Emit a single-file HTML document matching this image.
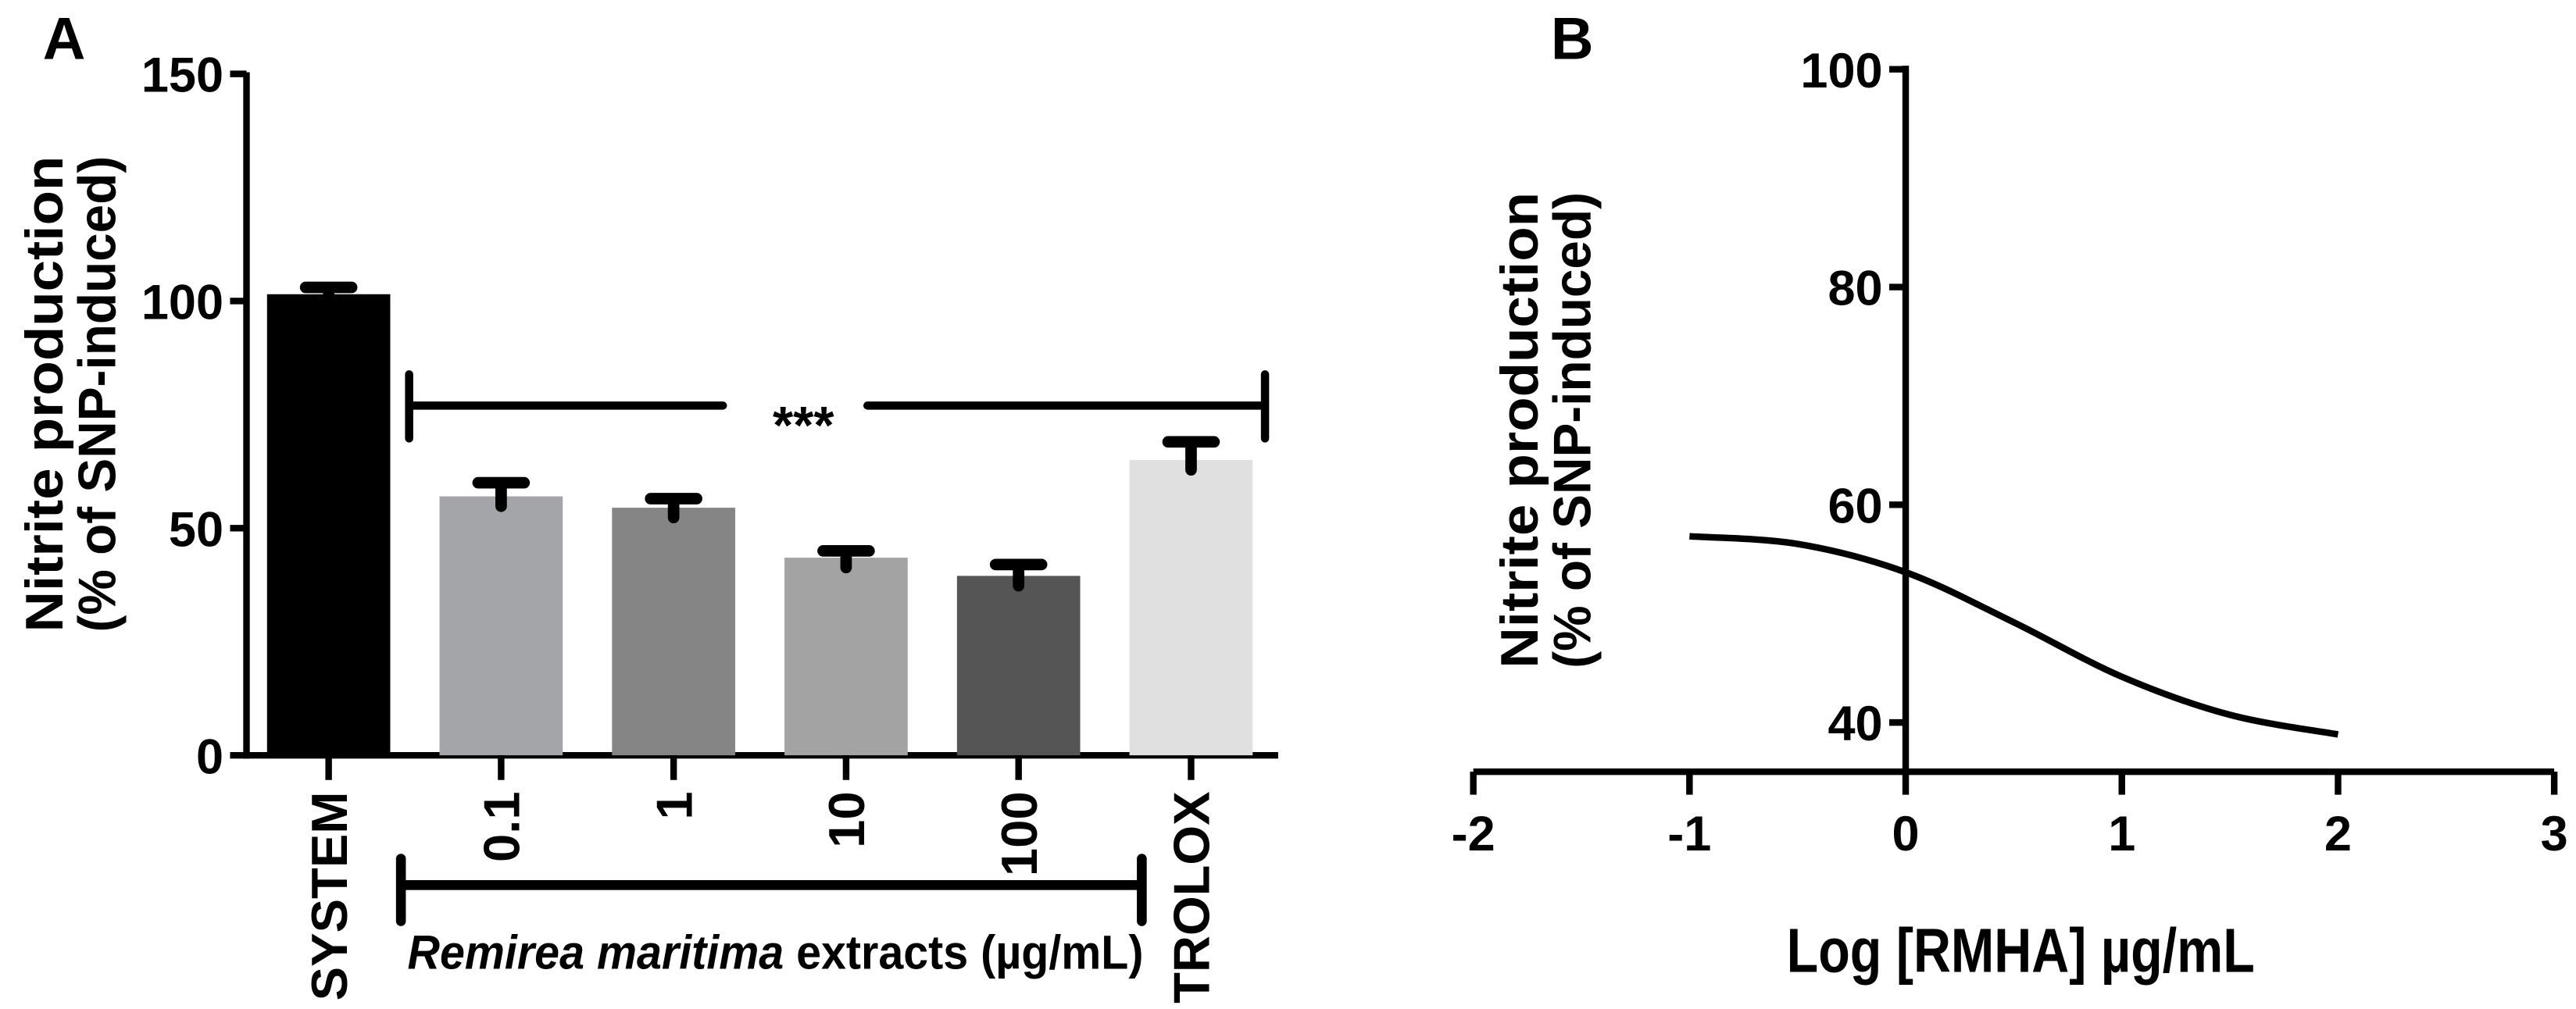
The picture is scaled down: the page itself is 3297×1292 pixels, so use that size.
<!DOCTYPE html>
<html><head><meta charset="utf-8"><style>
html,body{margin:0;padding:0;background:#fff;overflow:hidden}
svg{display:block}
text{font-family:"Liberation Sans",Arial,sans-serif;font-weight:bold;fill:#000}
</style></head><body>
<svg id="fig" width="3297" height="1292" viewBox="0 0 1568 614.5" xmlns="http://www.w3.org/2000/svg">
<g id="A"></g>
<g id="B"></g>
</svg>
<script>
// Panel A data
const catsA = ["SYSTEM","0.1","1","10","100","TROLOX"];
const valsA = [101.5,57,54.5,43.5,39.5,65];
const errA = [103,60,56.5,45,42,69];
const colorsA = ["#000000","#a4a5a9","#858585","#a3a3a3","#555555","#e0e0e0"];
const ticksA = [0,50,100,150];
// Panel B data
const xB = [-1,-0.5,0,0.5,1,1.5,2];
const yB = [57.1,56.4,53.8,49.2,44.2,40.7,38.9];
const xticksB = [-2,-1,0,1,2,3];
const yticksB = [40,60,80,100];

const NS="http://www.w3.org/2000/svg";
function mk(parent,tag,attrs,txt){const e=document.createElementNS(NS,tag);for(const k in attrs)e.setAttribute(k,attrs[k]);if(txt!==undefined)e.textContent=txt;parent.appendChild(e);return e;}

// ---------- Panel A ----------
const A=document.getElementById('A');
const yA=v=>460-v*(415/150);
const xA=i=>200+i*105;
let t=mk(A,'text',{x:26,y:36,'font-size':36});t.textContent='A';

let ax=mk(A,'line',{x1:150,y1:44,x2:150,y2:462,stroke:'#000','stroke-width':4});

ax=mk(A,'line',{x1:148,y1:460,x2:778,y2:460,stroke:'#000','stroke-width':4});

ticksA.forEach(v=>{
  const l=mk(A,'line',{x1:140,y1:yA(v),x2:150,y2:yA(v),stroke:'#000','stroke-width':4});
  
  const tx=mk(A,'text',{x:136,y:yA(v)+11,'font-size':30,'text-anchor':'end'},String(v));
  
});
catsA.forEach((c,i)=>{
  const x=xA(i);
  const r=mk(A,'rect',{x:x-37.5,y:yA(valsA[i]),width:75,height:460-yA(valsA[i]),fill:colorsA[i]});
  
  const e=mk(A,'path',{d:`M${x},${yA(valsA[i])+6}V${yA(errA[i])}M${x-14},${yA(errA[i])}H${x+14}`,stroke:'#000','stroke-width':7,'stroke-linecap':'round',fill:'none'});
  
  const tk=mk(A,'line',{x1:x,y1:460,x2:x,y2:475,stroke:'#000','stroke-width':4});
  
  const lb=mk(A,'text',{x:0,y:0,'font-size':31,'text-anchor':'end',transform:`translate(${x+11},482) rotate(-90)`},c);
  
});
let br=mk(A,'path',{d:'M249,228V267M249,247H440M528,247H770M770,228V267',stroke:'#000','stroke-width':5,fill:'none','stroke-linecap':'round'});

t=mk(A,'text',{x:489,y:270,'font-size':32,'text-anchor':'middle'},'***');

br=mk(A,'path',{d:'M244,523V561M244,539H695M695,523V561',stroke:'#000','stroke-width':6,fill:'none','stroke-linecap':'round'});

t=mk(A,'text',{x:248,y:590,'font-size':29,textLength:448,lengthAdjust:'spacingAndGlyphs'});
t.innerHTML='<tspan font-style="italic">Remirea maritima</tspan> extracts (µg/mL)';

t=mk(A,'text',{x:0,y:0,'font-size':32,'text-anchor':'middle',textLength:290,lengthAdjust:'spacingAndGlyphs',transform:'translate(38,240) rotate(-90)'},'Nitrite production');

t=mk(A,'text',{x:0,y:0,'font-size':32,'text-anchor':'middle',textLength:290,lengthAdjust:'spacingAndGlyphs',transform:'translate(70,240) rotate(-90)'},'(% of SNP-induced)');


// ---------- Panel B ----------
const B=document.getElementById('B');
const xBs=v=>1160+v*131.6;
const yBs=v=>440-(v-40)*6.63;
t=mk(B,'text',{x:944,y:36,'font-size':36},'B');

ax=mk(B,'line',{x1:1160,y1:40,x2:1160,y2:472,stroke:'#000','stroke-width':4});

ax=mk(B,'line',{x1:xBs(-2),y1:470,x2:xBs(3),y2:470,stroke:'#000','stroke-width':4});

yticksB.forEach(v=>{
  const l=mk(B,'line',{x1:1150,y1:yBs(v),x2:1160,y2:yBs(v),stroke:'#000','stroke-width':4});
  
  const tx=mk(B,'text',{x:1146,y:yBs(v)+11,'font-size':30,'text-anchor':'end'},String(v));
  
});
xticksB.forEach(v=>{
  const l=mk(B,'line',{x1:xBs(v),y1:470,x2:xBs(v),y2:484,stroke:'#000','stroke-width':4});
  
  const tx=mk(B,'text',{x:xBs(v),y:518,'font-size':30,'text-anchor':'middle'},String(v));
  
});
// smooth curve (Catmull-Rom)
const P=xB.map((x,i)=>[xBs(x),yBs(yB[i])]);
let d=`M${P[0][0]},${P[0][1]}`;
for(let i=0;i<P.length-1;i++){
  const p0=P[Math.max(0,i-1)],p1=P[i],p2=P[i+1],p3=P[Math.min(P.length-1,i+2)];
  const c1=[p1[0]+(p2[0]-p0[0])/6,p1[1]+(p2[1]-p0[1])/6];
  const c2=[p2[0]-(p3[0]-p1[0])/6,p2[1]-(p3[1]-p1[1])/6];
  d+=`C${c1[0]},${c1[1]} ${c2[0]},${c2[1]} ${p2[0]},${p2[1]}`;
}
const cv=mk(B,'path',{d:d,stroke:'#000','stroke-width':4,fill:'none'});

t=mk(B,'text',{x:1230,y:592,'font-size':38,'text-anchor':'middle',textLength:285,lengthAdjust:'spacingAndGlyphs'},'Log [RMHA] µg/mL');

t=mk(B,'text',{x:0,y:0,'font-size':32,'text-anchor':'middle',textLength:290,lengthAdjust:'spacingAndGlyphs',transform:'translate(936,262) rotate(-90)'},'Nitrite production');

t=mk(B,'text',{x:0,y:0,'font-size':32,'text-anchor':'middle',textLength:290,lengthAdjust:'spacingAndGlyphs',transform:'translate(968,262) rotate(-90)'},'(% of SNP-induced)');

</script>
</body></html>
